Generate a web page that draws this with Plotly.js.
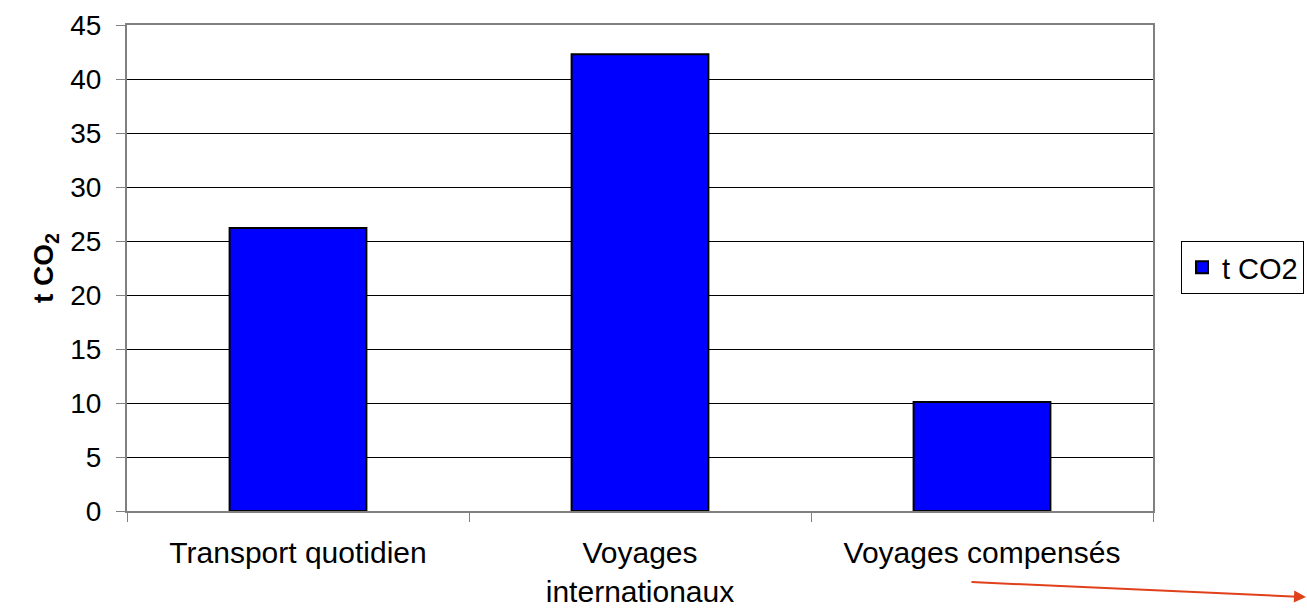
<!DOCTYPE html>
<html>
<head>
<meta charset="utf-8">
<script src="https://cdn.plot.ly/plotly-3.0.1.min.js"></script>
<style>html,body{margin:0;padding:0;background:#fff;}#chart{width:1307px;height:612px;}</style>
</head>
<body>
<div id="chart"></div>
<script>
const categories = ["Transport quotidien", "Voyages<br>internationaux", "Voyages compensés"];
const values = [26.2, 42.3, 10.1];
const seriesName = "t CO2";
const yTickVals = [0, 5, 10, 15, 20, 25, 30, 35, 40, 45];

const trace = {
  type: "bar",
  x: categories,
  y: values,
  name: seriesName,
  width: 0.4,
  marker: {color: "#0000FF", line: {color: "#000000", width: 2}},
  showlegend: true,
  hoverinfo: "x+y"
};

const layout = {
  width: 1307, height: 612,
  margin: {l: 127, r: 154, t: 25, b: 101, autoexpand: false},
  paper_bgcolor: "#ffffff",
  plot_bgcolor: "#ffffff",
  font: {family: "Liberation Sans, Arial, sans-serif", size: 28, color: "#000"},
  xaxis: {
    type: "category",
    automargin: false,
    showline: true, linecolor: "#808080", linewidth: 2, mirror: true,
    ticks: "outside", tickson: "boundaries", ticklen: 9, tickcolor: "#808080", tickwidth: 1,
    ticklabelstandoff: 14,
    showgrid: false,
    tickfont: {size: 30, color: "#000"},
    fixedrange: true
  },
  yaxis: {
    range: [0, 45],
    automargin: false,
    tickvals: yTickVals,
    showline: true, linecolor: "#808080", linewidth: 2, mirror: true,
    ticks: "outside", ticklen: 9, tickcolor: "#808080", tickwidth: 1,
    ticklabelstandoff: 9,
    showgrid: true, gridcolor: "#000000", gridwidth: 1,
    zeroline: false,
    tickfont: {size: 28, color: "#000"},
    title: {text: "<b>t CO<sub>2</sub></b>", font: {size: 28, color: "#000"}, standoff: 8},
    fixedrange: true
  },
  showlegend: true,
  legend: {
    x: 1.0273, y: 0.5556, xanchor: "left", yanchor: "top",
    bordercolor: "#000", borderwidth: 1, bgcolor: "#fff",
    font: {size: 29, color: "#000"}
  },
  annotations: [{
    xref: "paper", yref: "paper",
    x: 1.153, y: -0.177,
    ax: -340, ay: -15,
    axref: "pixel", ayref: "pixel",
    showarrow: true, arrowhead: 2, arrowsize: 1.2, arrowwidth: 2,
    arrowcolor: "#E0401A", text: ""
  }]
};

Plotly.newPlot("chart", [trace], layout, {displayModeBar: false, staticPlot: true});
</script>
</body>
</html>
